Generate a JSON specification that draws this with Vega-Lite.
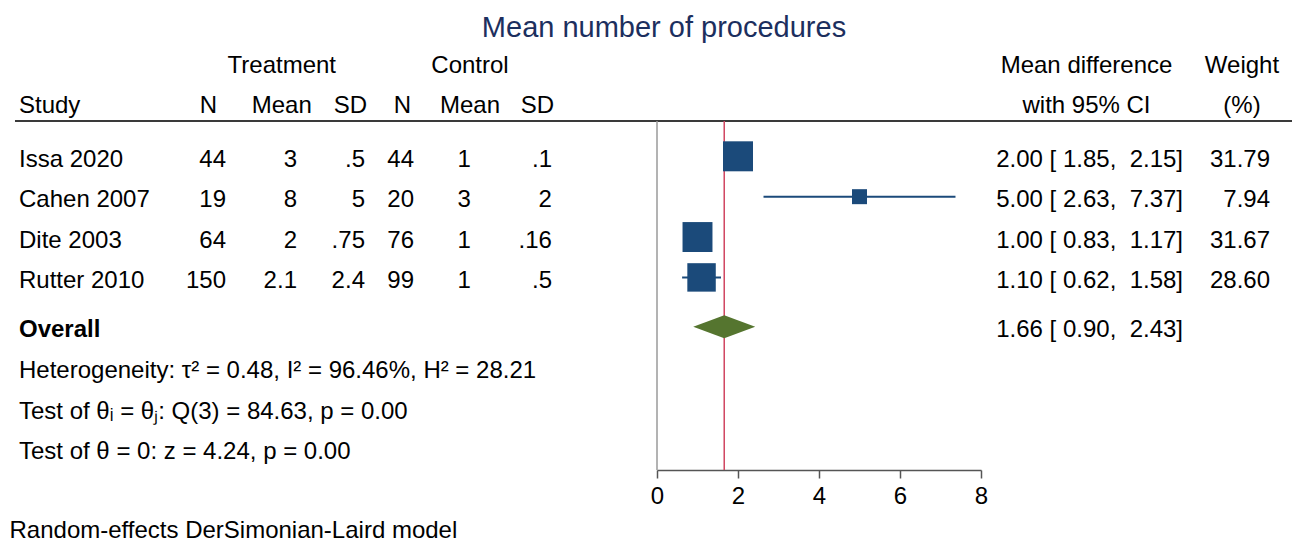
{
  "$schema": "https://vega.github.io/schema/vega-lite/v6.json",
  "width": 1292,
  "height": 349,
  "autosize": {"type": "none"},
  "padding": {"left": 0, "top": 121, "right": 0, "bottom": 81},
  "background": "white",
  "title": {
    "text": "Mean number of procedures",
    "font": "Liberation Sans",
    "fontSize": 29,
    "fontWeight": "normal",
    "color": "#1c2f5e",
    "anchor": "middle",
    "baseline": "alphabetic",
    "dx": 18,
    "offset": -12
  },
  "config": {
    "view": {"stroke": null},
    "text": {"font": "Liberation Sans", "fontSize": 24, "color": "#000000", "baseline": "alphabetic"}
  },
  "datasets": {
    "studies": [
      {"row": "Issa 2020", "nT": 44, "meanT": 3, "sdT": ".5", "nC": 44, "meanC": 1, "sdC": ".1", "md": 2.00, "lo": 1.85, "hi": 2.15, "weight": 31.79, "ci": "2.00 [ 1.85, \u00a02.15]"},
      {"row": "Cahen 2007", "nT": 19, "meanT": 8, "sdT": "5", "nC": 20, "meanC": 3, "sdC": "2", "md": 5.00, "lo": 2.63, "hi": 7.37, "weight": 7.94, "ci": "5.00 [ 2.63, \u00a07.37]"},
      {"row": "Dite 2003", "nT": 64, "meanT": 2, "sdT": ".75", "nC": 76, "meanC": 1, "sdC": ".16", "md": 1.00, "lo": 0.83, "hi": 1.17, "weight": 31.67, "ci": "1.00 [ 0.83, \u00a01.17]"},
      {"row": "Rutter 2010", "nT": 150, "meanT": 2.1, "sdT": "2.4", "nC": 99, "meanC": 1, "sdC": ".5", "md": 1.10, "lo": 0.62, "hi": 1.58, "weight": 28.60, "ci": "1.10 [ 0.62, \u00a01.58]"}
    ],
    "overall": [
      {"row": "Overall", "label": "Overall", "md": 1.66, "lo": 0.90, "hi": 2.43, "ci": "1.66 [ 0.90, \u00a02.43]"}
    ],
    "stats": [
      {"row": "het", "label": "Heterogeneity: τ² = 0.48, I² = 96.46%, H² = 28.21"},
      {"row": "q", "label": "Test of θᵢ = θⱼ: Q(3) = 84.63, p = 0.00"},
      {"row": "z", "label": "Test of θ = 0: z = 4.24, p = 0.00"}
    ],
    "headers": [
      {"row": "h2", "col": "study", "label": "Study"},
      {"row": "h1", "col": "mT", "label": "Treatment"},
      {"row": "h1", "col": "mC", "label": "Control"},
      {"row": "h2", "col": "nT", "label": "N"},
      {"row": "h2", "col": "mT", "label": "Mean"},
      {"row": "h2", "col": "sT", "label": "SD"},
      {"row": "h2", "col": "nC", "label": "N"},
      {"row": "h2", "col": "mC", "label": "Mean"},
      {"row": "h2", "col": "sC", "label": "SD"},
      {"row": "h1", "col": "md", "label": "Mean difference"},
      {"row": "h2", "col": "md", "label": "with 95% CI"},
      {"row": "h1", "col": "wt", "label": "Weight"},
      {"row": "h2", "col": "wt", "label": "(%)"}
    ]
  },
  "layer": [
    {
      "data": {"values": [{}]},
      "mark": {"type": "rule", "color": "#3a3a3a", "strokeWidth": 2},
      "encoding": {"x": {"datum": -15.852}, "x2": {"datum": 15.679}, "y": {"value": 0}}
    },
    {
      "data": {"values": [{}]},
      "mark": {"type": "rule", "color": "#9a9a9a", "strokeWidth": 1.5},
      "encoding": {"x": {"datum": 0}}
    },
    {
      "data": {"name": "overall"},
      "mark": {"type": "rule", "color": "#d04560", "strokeWidth": 1.5},
      "encoding": {"x": {"field": "md", "type": "quantitative"}}
    },
    {
      "encoding": {
        "y": {
          "field": "row",
          "type": "nominal",
          "scale": {
            "type": "point",
            "domain": ["h1", "h2", "Issa 2020", "Cahen 2007", "Dite 2003", "Rutter 2010", "Overall", "het", "q", "z"],
            "range": [-45.44, 317.9],
            "padding": 0
          },
          "axis": null
        }
      },
      "layer": [
        {
          "data": {"name": "studies"},
          "mark": {"type": "rule", "color": "#1b4a7a", "strokeWidth": 2},
          "encoding": {
            "x": {"field": "lo", "type": "quantitative"},
            "x2": {"field": "hi"}
          }
        },
        {
          "data": {"name": "studies"},
          "mark": {"type": "point", "shape": "square", "filled": true, "opacity": 1, "color": "#1b4a7a"},
          "encoding": {
            "x": {
              "field": "md",
              "type": "quantitative",
              "scale": {"domain": [0, 8], "range": [657, 981], "zero": false, "nice": false},
              "axis": {
                "values": [0, 2, 4, 6, 8],
                "format": "d",
                "grid": false,
                "domainColor": "#555555",
                "domainWidth": 1.5,
                "tickColor": "#555555",
                "tickWidth": 1.5,
                "tickSize": 8,
                "labelFont": "Liberation Sans",
                "labelFontSize": 24,
                "labelColor": "#000000",
                "labelPadding": 6,
                "labelFlush": false,
                "labelOverlap": false,
                "title": "Random-effects DerSimonian-Laird model",
                "titleFont": "Liberation Sans",
                "titleFontSize": 24,
                "titleFontWeight": "normal",
                "titleColor": "#000000",
                "titleAnchor": "start",
                "titleAlign": "left",
                "titleBaseline": "alphabetic",
                "titleX": 9,
                "titleY": 67
              }
            },
            "size": {"field": "weight", "type": "quantitative", "scale": {"domain": [0, 31.79], "range": [0, 900]}, "legend": null}
          }
        },
        {
          "data": {"name": "overall"},
          "mark": {"type": "point", "shape": "M-1,0L0,-0.37L1,0L0,0.37Z", "size": 3844, "filled": true, "opacity": 1, "color": "#55752f", "yOffset": 9},
          "encoding": {"x": {"field": "md", "type": "quantitative"}}
        },
        {
          "data": {"name": "headers"},
          "transform": [{"filter": "datum.col === 'study'"}],
          "mark": {"type": "text", "align": "left", "dy": -3},
          "encoding": {"x": {"datum": -15.753}, "text": {"field": "label", "type": "nominal"}}
        },
        {
          "data": {"name": "headers"},
          "transform": [{"filter": "datum.col === 'nT'"}],
          "mark": {"type": "text", "align": "center", "dy": -3},
          "encoding": {"x": {"datum": -11.074}, "text": {"field": "label", "type": "nominal"}}
        },
        {
          "data": {"name": "headers"},
          "transform": [{"filter": "datum.col === 'mT'"}],
          "mark": {"type": "text", "align": "center", "dy": -3},
          "encoding": {"x": {"datum": -9.265}, "text": {"field": "label", "type": "nominal"}}
        },
        {
          "data": {"name": "headers"},
          "transform": [{"filter": "datum.col === 'sT'"}],
          "mark": {"type": "text", "align": "center", "dy": -3},
          "encoding": {"x": {"datum": -7.568}, "text": {"field": "label", "type": "nominal"}}
        },
        {
          "data": {"name": "headers"},
          "transform": [{"filter": "datum.col === 'nC'"}],
          "mark": {"type": "text", "align": "center", "dy": -3},
          "encoding": {"x": {"datum": -6.284}, "text": {"field": "label", "type": "nominal"}}
        },
        {
          "data": {"name": "headers"},
          "transform": [{"filter": "datum.col === 'mC'"}],
          "mark": {"type": "text", "align": "center", "dy": -3},
          "encoding": {"x": {"datum": -4.617}, "text": {"field": "label", "type": "nominal"}}
        },
        {
          "data": {"name": "headers"},
          "transform": [{"filter": "datum.col === 'sC'"}],
          "mark": {"type": "text", "align": "center", "dy": -3},
          "encoding": {"x": {"datum": -2.951}, "text": {"field": "label", "type": "nominal"}}
        },
        {
          "data": {"name": "headers"},
          "transform": [{"filter": "datum.col === 'md'"}],
          "mark": {"type": "text", "align": "center", "dy": -3},
          "encoding": {"x": {"datum": 10.605}, "text": {"field": "label", "type": "nominal"}}
        },
        {
          "data": {"name": "headers"},
          "transform": [{"filter": "datum.col === 'wt'"}],
          "mark": {"type": "text", "align": "center", "dy": -3},
          "encoding": {"x": {"datum": 14.444}, "text": {"field": "label", "type": "nominal"}}
        },
        {
          "data": {"name": "studies"},
          "mark": {"type": "text", "align": "left", "dy": 10.5},
          "encoding": {"x": {"datum": -15.753}, "text": {"field": "row", "type": "nominal"}}
        },
        {
          "data": {"name": "studies"},
          "mark": {"type": "text", "align": "right", "dy": 10.5},
          "encoding": {"x": {"datum": -10.642}, "text": {"field": "nT", "type": "nominal"}}
        },
        {
          "data": {"name": "studies"},
          "mark": {"type": "text", "align": "right", "dy": 10.5},
          "encoding": {"x": {"datum": -8.889}, "text": {"field": "meanT", "type": "nominal"}}
        },
        {
          "data": {"name": "studies"},
          "mark": {"type": "text", "align": "right", "dy": 10.5},
          "encoding": {"x": {"datum": -7.210}, "text": {"field": "sdT", "type": "nominal"}}
        },
        {
          "data": {"name": "studies"},
          "mark": {"type": "text", "align": "right", "dy": 10.5},
          "encoding": {"x": {"datum": -6.000}, "text": {"field": "nC", "type": "nominal"}}
        },
        {
          "data": {"name": "studies"},
          "mark": {"type": "text", "align": "right", "dy": 10.5},
          "encoding": {"x": {"datum": -4.593}, "text": {"field": "meanC", "type": "nominal"}}
        },
        {
          "data": {"name": "studies"},
          "mark": {"type": "text", "align": "right", "dy": 10.5},
          "encoding": {"x": {"datum": -2.593}, "text": {"field": "sdC", "type": "nominal"}}
        },
        {
          "data": {"name": "studies"},
          "mark": {"type": "text", "align": "right", "dy": 10.5},
          "encoding": {"x": {"datum": 12.988}, "text": {"field": "ci", "type": "nominal"}}
        },
        {
          "data": {"name": "studies"},
          "mark": {"type": "text", "align": "right", "dy": 10.5},
          "encoding": {"x": {"datum": 15.136}, "text": {"field": "weight", "type": "quantitative", "format": ".2f"}}
        },
        {
          "data": {"name": "overall"},
          "mark": {"type": "text", "align": "left", "dy": 19, "fontWeight": "bold"},
          "encoding": {"x": {"datum": -15.753}, "text": {"field": "label", "type": "nominal"}}
        },
        {
          "data": {"name": "overall"},
          "mark": {"type": "text", "align": "right", "dy": 19},
          "encoding": {"x": {"datum": 12.988}, "text": {"field": "ci", "type": "nominal"}}
        },
        {
          "data": {"name": "stats"},
          "mark": {"type": "text", "align": "left", "dy": 20},
          "encoding": {"x": {"datum": -15.753}, "text": {"field": "label", "type": "nominal"}}
        }
      ]
    }
  ]
}
